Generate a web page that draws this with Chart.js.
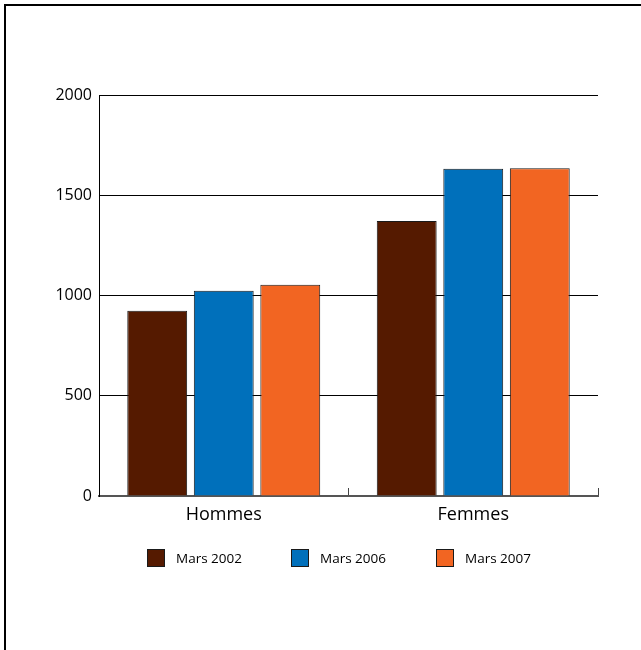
<!DOCTYPE html>
<html>
<head>
<meta charset="utf-8">
<script src="https://cdn.jsdelivr.net/npm/chart.js@4.4.1/dist/chart.umd.min.js"></script>
<style>
  html, body { margin: 0; padding: 0; background: #fff; }
  #wrap { position: relative; width: 641px; height: 650px; font-family: 'Open Sans', 'Noto Sans', sans-serif; }
  #frame { position: absolute; left: 4px; top: 4px; right: 0; bottom: 0;
           border-top: 2px solid #000; border-left: 2px solid #000; pointer-events: none; }
  #legend { position: absolute; top: 549px; left: 0; width: 641px; height: 18px; }
  .item { position: absolute; top: 0; height: 18px; display: flex; align-items: center; }
  .box { width: 16px; height: 16px; border: 1px solid #1a1a1a; margin-right: 11px; }
  .lbl { font-size: 13.5px; color: #000; line-height: 18px; white-space: nowrap; }
</style>
</head>
<body>
<div id="wrap">
  <canvas id="chart"></canvas>
  <div id="legend"></div>
  <div id="frame"></div>
</div>
<script>
// Data
const categories = ['Hommes', 'Femmes'];
const seriesNames = ['Mars 2002', 'Mars 2006', 'Mars 2007'];
const mars2002 = [924, 1372];
const mars2006 = [1024, 1632];
const mars2007 = [1054, 1635];
const seriesColors = ['#551a00', '#0070bb', '#f26522'];

const FONT = "'Open Sans', 'Noto Sans', sans-serif";

const datasets = [mars2002, mars2006, mars2007].map((vals, i) => ({
    label: seriesNames[i],
    data: vals,
    backgroundColor: seriesColors[i],
    borderColor: '#1a1a1a',
    borderWidth: 1,
    categoryPercentage: 0.8,
    barPercentage: 0.9
}));

const chart = new Chart(document.getElementById('chart'), {
    type: 'bar',
    data: { labels: categories, datasets: datasets },
    options: {
        responsive: true,
        maintainAspectRatio: false,
        animation: false,
        layout: { padding: { top: 95, right: 43, bottom: 114, left: 49 } },
        plugins: {
            tooltip: { enabled: false },
            legend: { display: false }
        },
        scales: {
            x: {
                afterFit: s => { s.height = 40; },
                grid: { drawOnChartArea: false, tickLength: -8, color: '#444', offset: true },
                border: { color: '#555', width: 2 },
                ticks: { color: '#000', padding: 16, font: { family: FONT, size: 18 } }
            },
            y: {
                min: 0,
                max: 2000,
                afterFit: s => { s.width = 50; },
                grid: { color: '#000', lineWidth: 1, drawTicks: false },
                border: { color: '#000', width: 1 },
                ticks: {
                    stepSize: 500,
                    color: '#000',
                    padding: 7,
                    font: { family: FONT, size: 16 },
                    callback: v => String(v)
                }
            }
        }
    }
});

// HTML legend built from the series arrays
const legendLeft = [147, 291, 436];
const legendEl = document.getElementById('legend');
chart.data.datasets.forEach((ds, i) => {
    const item = document.createElement('div');
    item.className = 'item';
    item.style.left = legendLeft[i] + 'px';
    const box = document.createElement('span');
    box.className = 'box';
    box.style.background = ds.backgroundColor;
    const lbl = document.createElement('span');
    lbl.className = 'lbl';
    lbl.textContent = ds.label;
    item.appendChild(box);
    item.appendChild(lbl);
    legendEl.appendChild(item);
});
</script>
</body>
</html>
